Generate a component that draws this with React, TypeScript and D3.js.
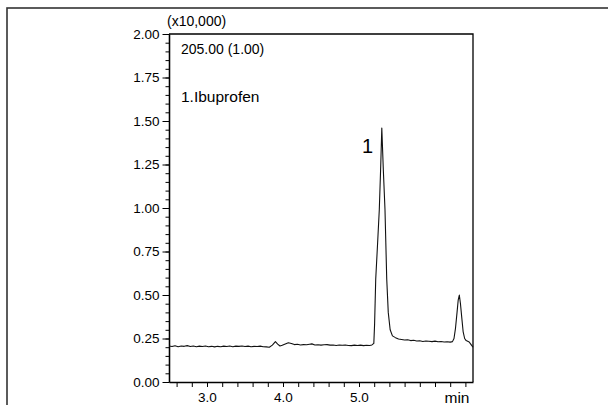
import React, { useEffect, useRef } from "react";
import * as d3 from "d3";

// retention time (min) and detector response (x10,000)
const times = [
  2.5, 2.54, 2.58, 2.62, 2.66, 2.7, 2.74, 2.78, 2.82, 2.86, 2.9, 2.94, 2.98,
  3.02, 3.06, 3.1, 3.14, 3.18, 3.22, 3.26, 3.3, 3.34, 3.38, 3.42, 3.46, 3.5,
  3.54, 3.58, 3.62, 3.66, 3.7, 3.74, 3.78, 3.82, 3.86, 3.9, 3.93, 3.96, 3.99,
  4.03, 4.07, 4.11, 4.15, 4.19, 4.23, 4.27, 4.31, 4.35, 4.38, 4.42, 4.46, 4.5,
  4.54, 4.58, 4.62, 4.66, 4.7, 4.74, 4.78, 4.82, 4.86, 4.9, 4.94, 4.98, 5.02,
  5.06, 5.1, 5.14, 5.17, 5.195, 5.205, 5.22, 5.245, 5.267, 5.285, 5.3, 5.32,
  5.342, 5.365, 5.385, 5.41, 5.44, 5.48, 5.52, 5.56, 5.6, 5.64, 5.68, 5.72,
  5.76, 5.8, 5.84, 5.88, 5.92, 5.96, 6.0, 6.04, 6.08, 6.12, 6.16, 6.2, 6.23,
  6.25, 6.27, 6.29, 6.305, 6.32, 6.335, 6.35, 6.37, 6.39, 6.41, 6.43, 6.45,
  6.47, 6.49, 6.5,
];
const signal = [
  0.207, 0.204, 0.208, 0.203, 0.207, 0.205, 0.209, 0.204, 0.207, 0.203, 0.206,
  0.204, 0.207, 0.203, 0.205, 0.202, 0.205, 0.203, 0.206, 0.204, 0.207, 0.203,
  0.206, 0.205, 0.207, 0.204, 0.206, 0.203, 0.205, 0.204, 0.206, 0.203, 0.202,
  0.2, 0.212, 0.232, 0.218, 0.207, 0.211, 0.219, 0.226, 0.221, 0.215, 0.217,
  0.213, 0.215, 0.214, 0.217, 0.219, 0.213, 0.214, 0.212, 0.214, 0.215, 0.212,
  0.213, 0.21, 0.213, 0.211, 0.213, 0.21, 0.209, 0.212, 0.21, 0.212, 0.209,
  0.211, 0.21, 0.213, 0.222, 0.33, 0.59, 0.8, 0.99, 1.23, 1.46, 1.22, 0.99,
  0.59, 0.4, 0.3, 0.265, 0.255, 0.247, 0.244, 0.241, 0.243, 0.238, 0.24, 0.236,
  0.237, 0.233, 0.236, 0.234, 0.232, 0.235, 0.231, 0.233, 0.23, 0.231, 0.229,
  0.232, 0.25, 0.31, 0.4, 0.47, 0.5, 0.45, 0.38, 0.29, 0.25, 0.238, 0.234,
  0.23, 0.218, 0.206, 0.2,
];

const yTicks = [0, 0.25, 0.5, 0.75, 1.0, 1.25, 1.5, 1.75, 2.0];
const yMinorTicks = [
  0, 0.05, 0.1, 0.15, 0.2, 0.25, 0.3, 0.35, 0.4, 0.45, 0.5, 0.55, 0.6, 0.65,
  0.7, 0.75, 0.8, 0.85, 0.9, 0.95, 1.0, 1.05, 1.1, 1.15, 1.2, 1.25, 1.3, 1.35,
  1.4, 1.45, 1.5, 1.55, 1.6, 1.65, 1.7, 1.75, 1.8, 1.85, 1.9, 1.95, 2.0,
];
const xTicks = [
  2.6, 2.8, 3.0, 3.2, 3.4, 3.6, 3.8, 4.0, 4.2, 4.4, 4.6, 4.8, 5.0, 5.2, 5.4,
  5.6, 5.8, 6.0, 6.2, 6.4,
];
const xLabels = [3.0, 4.0, 5.0];

const FONT = "'Liberation Sans', Arial, sans-serif";

const Chromatogram = () => {
  const ref = useRef<SVGSVGElement>(null);

  useEffect(() => {
    const svg = d3.select(ref.current);
    svg.selectAll("*").remove();

    const left = 169,
      right = 473,
      top = 34,
      bottom = 382;

    const x = d3.scaleLinear().domain([2.5, 6.5]).range([left, right]);
    const y = d3.scaleLinear().domain([0, 2]).range([bottom, top]);

    // outer frame, runs off the page on the right and bottom
    svg
      .append("rect")
      .attr("x", 7)
      .attr("y", 8)
      .attr("width", 700)
      .attr("height", 500)
      .attr("fill", "none")
      .attr("stroke", "#333")
      .attr("stroke-width", 1.6);

    // top and right edges of the plot box
    svg
      .append("path")
      .attr("d", `M${left},${top}H${right}V${bottom}`)
      .attr("fill", "none")
      .attr("stroke", "#000")
      .attr("stroke-width", 1.3);

    // y minor ticks
    svg
      .append("g")
      .attr("transform", `translate(${left},0)`)
      .call(
        d3
          .axisLeft(y)
          .tickValues(yMinorTicks)
          .tickSize(3.5)
          .tickSizeOuter(0)
          .tickFormat(() => "")
      );

    // y major ticks + labels
    const yAxis = svg
      .append("g")
      .attr("transform", `translate(${left},0)`)
      .call(
        d3
          .axisLeft(y)
          .tickValues(yTicks)
          .tickSize(6.5)
          .tickSizeOuter(0)
          .tickPadding(3)
          .tickFormat((d) => d3.format(".2f")(d as number))
      );
    yAxis
      .selectAll("text")
      .attr("font-family", FONT)
      .attr("font-size", 13.5)
      .attr("fill", "#000");

    const xAxis = svg
      .append("g")
      .attr("transform", `translate(0,${bottom})`)
      .call(
        d3
          .axisBottom(x)
          .tickValues(xTicks)
          .tickSize(5)
          .tickSizeOuter(0)
          .tickPadding(5)
          .tickFormat((d) =>
            xLabels.some((v) => Math.abs(v - (d as number)) < 1e-6)
              ? d3.format(".1f")(d as number)
              : ""
          )
      );
    xAxis
      .selectAll("text")
      .attr("font-family", FONT)
      .attr("font-size", 13.5)
      .attr("fill", "#000");

    svg.selectAll(".domain").attr("stroke", "#000").attr("stroke-width", 1.3);
    svg.selectAll(".tick line").attr("stroke", "#000");

    // trace
    const line = d3
      .line<number>()
      .x((d, i) => x(times[i]))
      .y((d) => y(d));

    svg
      .append("path")
      .datum(signal)
      .attr("d", line)
      .attr("fill", "none")
      .attr("stroke", "#111")
      .attr("stroke-width", 1.1)
      .attr("stroke-linejoin", "round");

    const txt = (
      s: string,
      tx: number,
      ty: number,
      size: number,
      anchor = "start"
    ) =>
      svg
        .append("text")
        .attr("x", tx)
        .attr("y", ty)
        .attr("font-family", FONT)
        .attr("font-size", size)
        .attr("text-anchor", anchor)
        .attr("fill", "#000")
        .text(s);

    txt("(x10,000)", 167, 26, 14);
    txt("205.00 (1.00)", 181, 54, 14);
    txt("1.Ibuprofen", 181, 102, 15.5);
    txt("1", 362, 153, 20);
    txt("min", 457, 403, 15.5, "middle");
  }, []);

  return (
    <svg
      ref={ref}
      width={608}
      height={405}
      style={{ position: "absolute", left: 0, top: 0, background: "#fff" }}
    />
  );
};

export default function App() {
  return <Chromatogram />;
}
